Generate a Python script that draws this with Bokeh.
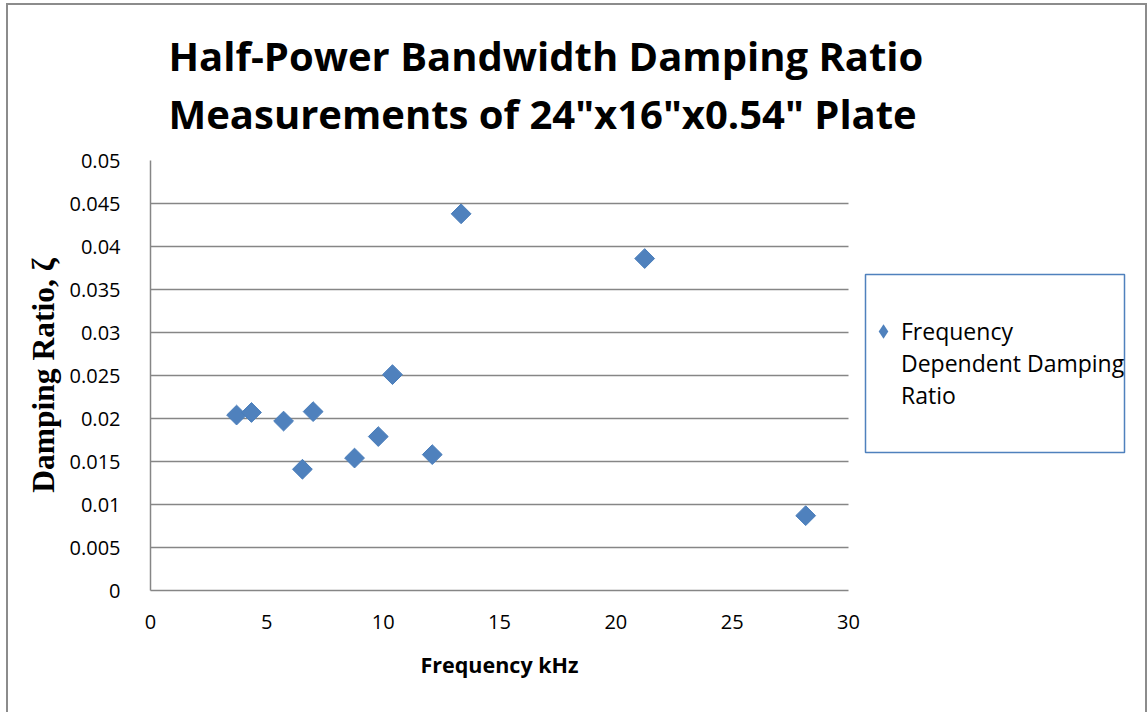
import numpy as np
from bokeh.plotting import figure
from bokeh.models import (Range1d, FixedTicker, Title, Legend, LegendItem,
                          ColumnDataSource, BoxAnnotation)
from bokeh.embed import file_html
from bokeh.resources import INLINE

# ---------------- data ----------------
freq_khz = [3.70, 4.34, 5.72, 6.53, 6.99, 8.77, 9.79, 10.40, 12.11, 13.35, 21.24, 28.16]
damping_ratio = [0.0204, 0.0207, 0.0197, 0.0141, 0.0208, 0.0154, 0.0179, 0.0251,
                 0.0158, 0.0438, 0.0386, 0.0087]
x_ticks = [0, 5, 10, 15, 20, 25, 30]
x_tick_labels = ["0", "5", "10", "15", "20", "25", "30"]
y_ticks = [0, 0.005, 0.01, 0.015, 0.02, 0.025, 0.03, 0.035, 0.04, 0.045, 0.05]
y_tick_labels = ["0", "0.005", "0.01", "0.015", "0.02", "0.025", "0.03", "0.035",
                 "0.04", "0.045", "0.05"]
title_lines = ["Half-Power Bandwidth Damping Ratio",
               'Measurements of 24"x16"x0.54" Plate']
series_label_lines = ["Frequency", "Dependent Damping", "Ratio"]
x_label = "Frequency kHz"
y_label = "Damping Ratio, \u03b6"

# ---------------- layout (page pixels) ----------------
OX, OY = 8, 5                      # chart-area offset inside the page
W, H = 1145 - OX, 712 - OY
PL, PR, PT, PB = 150, 848, 160, 590   # plot area in page pixels
FL, FT, FB = PL - OX, PT - OY, PB - OY
GRAY = "#868686"
BLUE = "#4F81BD"

X0, X1 = x_ticks[0], x_ticks[-1]
Y0, Y1 = y_ticks[0], y_ticks[-1]
# the frame runs on to the right edge so the legend can sit inside it
X_END = X0 + (X1 - X0) * (W - FL) / (PR - PL)


def sx2d(sx):
    return X0 + (sx - PL) / (PR - PL) * (X1 - X0)


def sy2d(sy):
    return Y0 + (PB - sy) / (PB - PT) * (Y1 - Y0)


p = figure(width=W, height=H, output_backend="svg", toolbar_location=None,
           x_range=Range1d(X0, X_END), y_range=Range1d(Y0, Y1),
           min_border_left=FL, min_border_right=0,
           min_border_top=FT, min_border_bottom=H - FB)
p.margin = (OY, 0, 0, OX)
p.styles = {"outline": "2px solid #8c8c8c"}
p.outline_line_color = None
p.background_fill_color = "white"
p.border_fill_color = "white"

src = ColumnDataSource(dict(x=freq_khz, y=damping_ratio))
r = p.scatter("x", "y", source=src, marker="square", angle=np.pi / 4, size=14,
              fill_color=BLUE, line_color="#4A7EBB", line_width=1)
# zero-size twin that only supplies the diamond key for the legend
r_key = p.scatter("x", "y", source=src, marker="diamond", size=0,
                  fill_color=BLUE, line_color=None)

# axes
p.xaxis.ticker = FixedTicker(ticks=x_ticks)
p.yaxis.ticker = FixedTicker(ticks=y_ticks)
p.xaxis.bounds = (X0, X1)
p.yaxis.bounds = (Y0, Y1)
p.xaxis.major_label_overrides = {t: l for t, l in zip(x_ticks, x_tick_labels)}
p.yaxis.major_label_overrides = {t: l for t, l in zip(y_ticks, y_tick_labels)}
for ax in (p.xaxis[0], p.yaxis[0]):
    ax.axis_line_color = GRAY
    ax.axis_line_width = 1.5
    ax.major_tick_line_color = None
    ax.minor_tick_line_color = None
    ax.major_label_text_font = "Open Sans"
    ax.major_label_text_font_size = "20px"
    ax.major_label_text_color = "black"
p.xaxis.major_label_standoff = 18
p.yaxis.major_label_standoff = 24
p.yaxis.axis_label = y_label
p.yaxis.axis_label_text_font = "Liberation Serif"
p.yaxis.axis_label_text_font_style = "bold"
p.yaxis.axis_label_text_font_size = "31.5px"
p.yaxis.axis_label_text_color = "black"
p.yaxis.axis_label_standoff = 6

# x-axis title, centred under the 0-30 plot area
p.add_layout(Title(text=x_label, align="left", offset=420 - PL,
                   vertical_align="top", text_font="Open Sans",
                   text_font_style="bold", text_font_size="21.5px",
                   text_color="black", standoff=36), "below")

p.xgrid.grid_line_color = None
p.ygrid.grid_line_color = GRAY
p.ygrid.grid_line_width = 1.5
p.ygrid.cross_bounds = (X0, X1)

# title (two lines)
p.title = None
p.add_layout(Title(text="\n".join(title_lines), align="left", offset=168 - PL,
                   text_font="Open Sans", text_font_style="bold",
                   text_font_size="40px", text_line_height=1.06,
                   text_color="black", standoff=38), "above")

# legend: key level with the first line of the label
legend_label = "\n\n" + "\n".join(series_label_lines)
legend = Legend(items=[LegendItem(label=legend_label, renderers=[r_key])],
                location=(865 - PL, PB - (331 + 80)),
                border_line_color=None, background_fill_alpha=0,
                padding=0, margin=0, spacing=0,
                glyph_width=36, glyph_height=46, label_height=32,
                label_standoff=0,
                label_text_font="Open Sans", label_text_font_size="23px",
                label_text_line_height=1.4, label_text_color="black")
p.add_layout(legend, "center")
p.add_layout(BoxAnnotation(left=sx2d(865), right=sx2d(1124), top=sy2d(274),
                           bottom=sy2d(452), fill_alpha=0, line_color=BLUE,
                           line_alpha=1, line_width=1.5))

open("out.html", "w").write(file_html(p, INLINE))
